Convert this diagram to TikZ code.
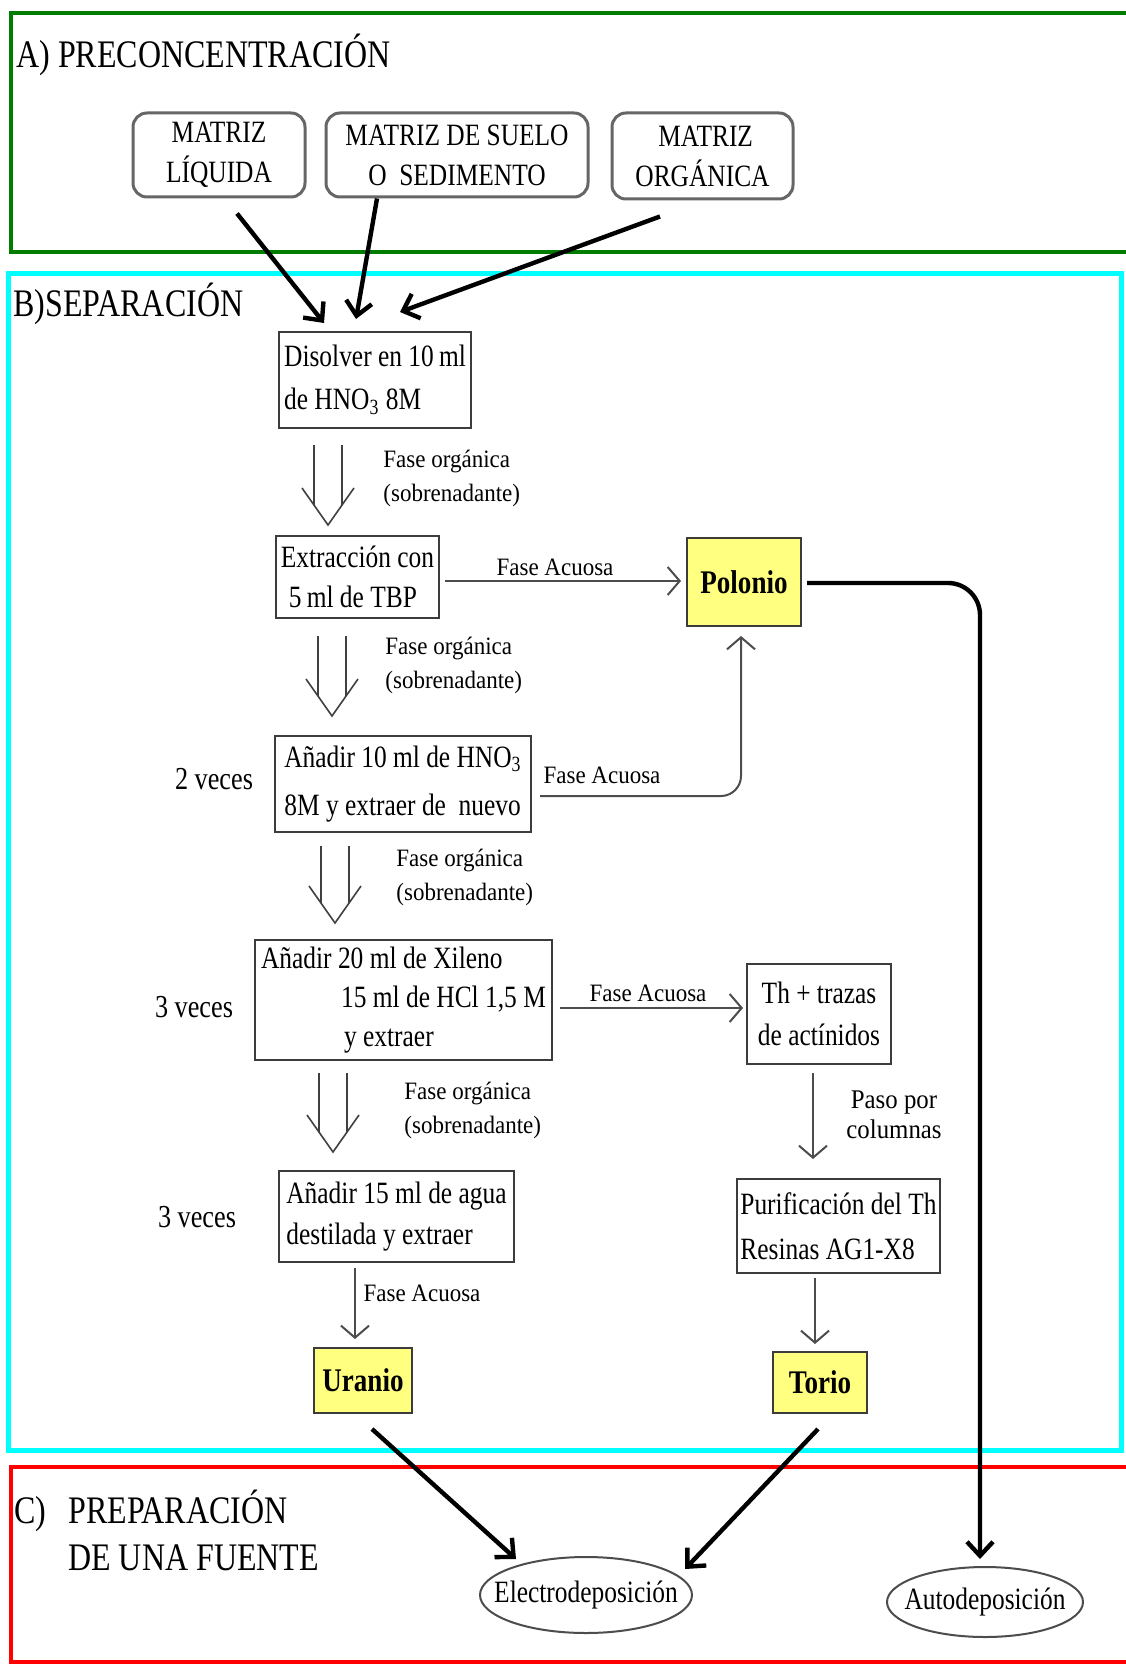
\documentclass[tikz,border=0pt]{standalone}
\usepackage{fontspec}
\setmainfont[FakeStretch=0.82]{Liberation Serif}
\newfontfamily\lblfont[FakeStretch=0.92]{Liberation Serif}
\usetikzlibrary{arrows.meta,calc,shapes.geometric}
\definecolor{frameG}{RGB}{0,125,0}
\definecolor{frameC}{RGB}{0,255,255}
\definecolor{frameR}{RGB}{255,0,0}
\definecolor{boxline}{RGB}{60,60,60}
\definecolor{yel}{RGB}{255,255,128}
\tikzset{
  stepbox/.style={draw=boxline, line width=1pt, inner sep=0pt, align=left,
    font=\fontsize{15.5}{21}\selectfont},
  resbox/.style={draw=boxline, fill=yel, line width=1pt, inner sep=0pt,
    font=\bfseries\fontsize{16.5}{20}\selectfont},
  matbox/.style={draw=black!60, line width=1.5pt, rounded corners=7pt, inner sep=0pt,
    align=center, font=\fontsize{15.5}{20}\selectfont},
  ellbox/.style={ellipse, draw=black!70, line width=1pt, inner ysep=0pt,
    font=\fontsize{15.5}{18}\selectfont},
  lbl/.style={font=\lblfont\fontsize{12.5}{17}\selectfont, align=left, inner sep=0pt},
  veces/.style={font=\fontsize{16}{19}\selectfont, inner sep=0pt},
  sectitle/.style={font=\fontsize{19.5}{24}\selectfont, inner sep=0pt, anchor=base west, align=left},
  thickarrow/.style={line width=2.2pt, black, -{Straight Barb[length=7pt,width=13pt]}},
  thinarrow/.style={line width=1pt, black!70, -{Straight Barb[length=6pt,width=14pt]}},
  hollow/.style={line width=0.8pt, black!75},
}
\newcommand{\hollowarrow}[3]{%
  \draw[hollow] (#1-14,#2) -- (#1-14,#3-20) (#1+14,#2) -- (#1+14,#3-20)
    (#1-26,#3-37) -- (#1,#3) -- (#1+26,#3-37);}
\begin{document}
\begin{tikzpicture}[x=0.5pt,y=-0.5pt]
\fill[white] (0,0) rectangle (1125,1664);
\useasboundingbox (0,0) rectangle (1125,1664);
% frames
\draw[frameG, line width=2pt] (11,13) rectangle (1140,252);
\draw[frameC, line width=2.5pt] (8,273) rectangle (1121,1450);
\draw[frameR, line width=2pt] (11,1467) rectangle (1140,1662);
% titles
\node[sectitle] (tA) at (16,68) {A) PRECONCENTRACIÓN};
\node[sectitle] (tB) at (13,316) {B)SEPARACIÓN};
\node[sectitle] (tC) at (14,1523) {\makebox[27pt][l]{C)}PREPARACIÓN};
\node[sectitle] (tC2) at (68,1570) {DE UNA FUENTE};
% matrix boxes
\node[matbox, minimum width=86pt, minimum height=42pt] (m1) at (219,155) {MATRIZ\\LÍQUIDA};
\node[matbox, minimum width=131pt, minimum height=42pt] (m2) at (457,155) {MATRIZ DE SUELO\\O\ \ SEDIMENTO};
\node[matbox, minimum width=90.5pt, minimum height=43pt] (m3) at (702.5,156) {\ MATRIZ\\ORGÁNICA};
% steps
\node[stepbox, minimum width=96pt, minimum height=48pt, font=\fontsize{15.5}{21.5}\selectfont] (dis) at (375,380)
  {Disolver en 10\,ml\\de HNO\textsubscript{3} 8M};
\node[stepbox, minimum width=81.5pt, minimum height=41pt, font=\fontsize{15.5}{20}\selectfont] (ext) at (357.5,577)
  {Extracción con\\\hspace*{4pt}5\,ml de TBP};
\node[stepbox, minimum width=128pt, minimum height=48pt, font=\fontsize{15.5}{24}\selectfont] (add10) at (403,784)
  {Añadir 10 ml de HNO\textsubscript{3}\\8M y extraer de\ \ nuevo};
\node[stepbox, minimum width=148.5pt, minimum height=60pt, font=\fontsize{15.5}{19.5}\selectfont] (add20) at (403.5,1000)
  {Añadir 20 ml de Xileno\\\hspace*{40pt}15 ml de HCl 1,5 M\\\hspace*{41.5pt}y extraer};
\node[stepbox, minimum width=117.5pt, minimum height=45.5pt, font=\fontsize{15.5}{20.5}\selectfont] (add15) at (396.5,1216.5)
  {Añadir 15 ml de agua\\destilada y extraer};
\node[stepbox, align=center, minimum width=72pt, minimum height=50pt] (th) at (819,1014)
  {Th + trazas\\de actínidos};
\node[stepbox, minimum width=101.5pt, minimum height=47pt, font=\fontsize{15.5}{22.5}\selectfont] (pur) at (838.5,1226)
  {Purificación del Th\\Resinas AG1-X8};
% results
\node[resbox, minimum width=57pt, minimum height=44pt] (pol) at (744,582) {Polonio};
\node[resbox, minimum width=49pt, minimum height=32.5pt] (ura) at (363,1380.5) {Uranio};
\node[resbox, minimum width=47pt, minimum height=30.5pt] (tor) at (820,1382.5) {Torio};
% final
\node[ellbox, inner xsep=-9pt, minimum width=106pt, minimum height=38pt] (electro) at (586,1595) {Electrodeposición};
\node[ellbox, inner xsep=-6.5pt, minimum width=98pt, minimum height=35pt] (auto) at (985,1602) {Autodeposición};
% side labels
\node[veces] (v1) at (214,779) {2 veces};
\node[veces] (v2) at (194,1007) {3 veces};
\node[veces] (v3) at (197,1217) {3 veces};
\node[lbl, anchor=west] (o1) at (383,478) {Fase orgánica\\(sobrenadante)};
\node[lbl, anchor=west] (o2) at (385,665) {Fase orgánica\\(sobrenadante)};
\node[lbl, anchor=west] (o3) at (396,877) {Fase orgánica\\(sobrenadante)};
\node[lbl, anchor=west] (o4) at (404,1110) {Fase orgánica\\(sobrenadante)};
\node[lbl] (a1) at (555,567) {Fase Acuosa};
\node[lbl] (a2) at (602,775) {Fase Acuosa};
\node[lbl] (a3) at (648,993) {Fase Acuosa};
\node[lbl] (a4) at (422,1293) {Fase Acuosa};
\node[lbl, align=center, font=\lblfont\fontsize{13.5}{15}\selectfont] (pc) at (894,1115) {Paso por\\columnas};
% thick arrows into Disolver
\draw[thickarrow] ($(m1.south)+(18,15)$) -- ($(dis.north)+(-51,-8)$);
\draw[thickarrow] ($(m2.south)+(-80,0)$) -- ($(dis.north)+(-19,-12)$);
\draw[thickarrow] ($(m3.south)+(-42.5,16)$) -- ($(dis.north)+(25,-19)$);
% hollow arrows
\hollowarrow{328}{445}{525}
\hollowarrow{332}{636}{716}
\hollowarrow{335}{846}{923}
\hollowarrow{333}{1073}{1152}
% thin arrows
\draw[thinarrow] ($(ext.east |- pol.west)+(5,-1)$) -- ($(pol.west)+(-5,-1)$);
\draw[thinarrow, rounded corners=10pt] ($(add10.east)+(8,12)$) -| ($(pol.south)+(-3,9)$);
\draw[thinarrow] ($(add20.east)+(7,8)$) -- ($(th.west)+(-3,-6)$);
\draw[thinarrow] ($(th.south)+(-6,8)$) -- ($(th.south |- pur.north)+(-6,-19)$);
\draw[thinarrow] ($(tor.north |- pur.south)+(-5,4)$) -- ($(tor.north)+(-5,-7)$);
\draw[thinarrow] ($(ura.north |- add15.south)+(-8,5)$) -- ($(ura.north)+(-8,-8)$);
% thick arrows to sources
\draw[thickarrow, rounded corners=16pt] ($(pol.east)+(5,1)$) -| ($(auto.north)+(-5,-7)$);
\draw[thickarrow] ($(ura.south)+(9,15)$) -- ($(electro.north)+(-70,3)$);
\draw[thickarrow] ($(tor.south)+(-2,15)$) -- ($(electro.north)+(99,13)$);
\end{tikzpicture}
\end{document}
